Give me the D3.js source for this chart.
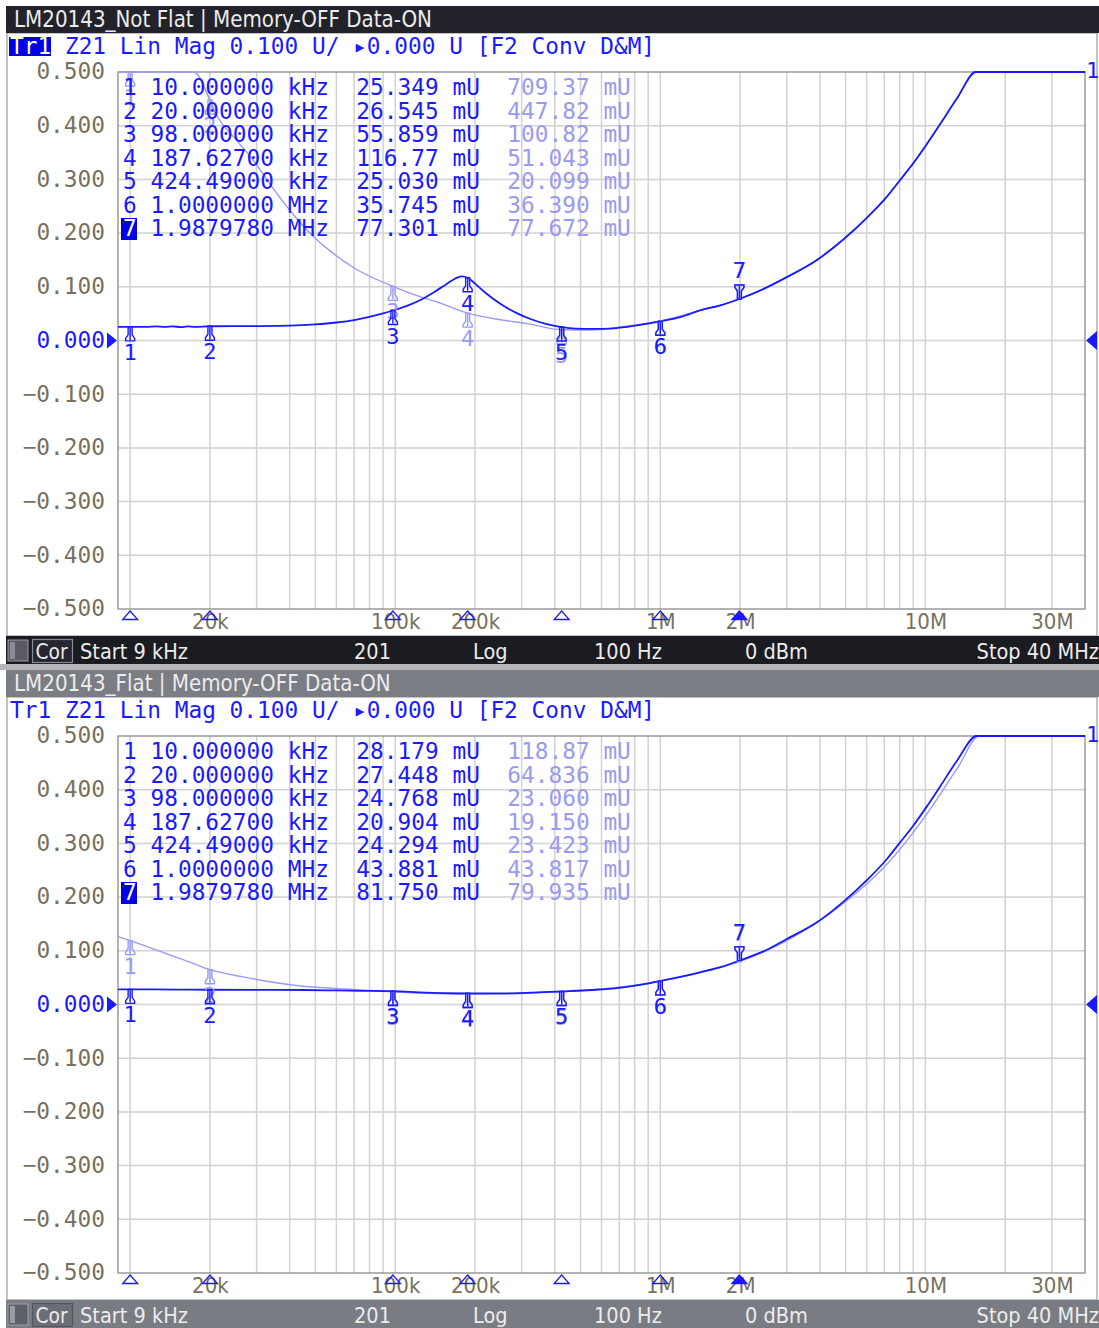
<!DOCTYPE html>
<html>
<head>
<meta charset="utf-8">
<script src="https://cdn.jsdelivr.net/npm/d3@7"></script>
<style>
  body { margin: 0; background: #fff; }
  svg { display: block; }
  text { white-space: pre; }
</style>
</head>
<body>
<script>
// ---- sweep / axis setup ----
const startHz = 9e3, stopHz = 40e6;
const yTickValues = [0.5, 0.4, 0.3, 0.2, 0.1, 0, -0.1, -0.2, -0.3, -0.4, -0.5];
const xTickValues = [20e3, 100e3, 200e3, 1e6, 2e6, 10e6, 30e6];
const xTickLabels = ["20k", "100k", "200k", "1M", "2M", "10M", "30M"];
const statusLabels = ["Start 9 kHz", "201", "Log", "100 Hz", "0 dBm", "Stop 40 MHz"];

// ---- markers (stimulus) ----
const markerHz = [10e3, 20e3, 98e3, 187.627e3, 424.49e3, 1e6, 1.987978e6];
const markerHzText = ["10.000000 kHz", "20.000000 kHz", "98.000000 kHz", "187.62700 kHz",
                      "424.49000 kHz", "1.0000000 MHz", "1.9879780 MHz"];
const activeMarker = 7;

// ---- LM20143_Not Flat : marker readouts (mU) ----
const notFlatMarkerData = [25.349, 26.545, 55.859, 116.77, 25.030, 35.745, 77.301];
const notFlatMarkerMem  = [709.37, 447.82, 100.82, 51.043, 20.099, 36.390, 77.672];

// trace (kHz, U)
const notFlatDataKHz = [9, 10, 11.5, 12.5, 13.5, 14.5, 15.5, 16.5, 17.5, 20, 25, 30, 40, 50, 60, 70, 80, 90,
  98, 110, 125, 140, 155, 168, 178, 187.627, 200, 220, 250, 290, 320, 370, 424.49, 480, 550, 650, 750, 850,
  1000, 1200, 1410, 1700, 1987.978, 2500, 3000, 3900, 4900, 6000, 7160, 8000, 9000, 10100, 11400, 13200,
  15500, 20000, 30000, 40000];
const notFlatDataU = [0.0253, 0.025349, 0.0252, 0.0262, 0.0255, 0.0263, 0.0249, 0.0262, 0.0255, 0.026545,
  0.0266, 0.0268, 0.0276, 0.0300, 0.0335, 0.0380, 0.0440, 0.0505,
  0.055859, 0.0640, 0.0760, 0.0900, 0.1040, 0.1150, 0.1195, 0.11677, 0.1060, 0.0880, 0.0680, 0.0500, 0.0410,
  0.0310, 0.025030, 0.0222, 0.0216, 0.0222, 0.0255, 0.0295,
  0.035745, 0.0440, 0.0560, 0.0660, 0.077301, 0.0980, 0.1180, 0.1500, 0.1880, 0.2280, 0.2680, 0.2980,
  0.3300, 0.3650, 0.4040, 0.4520, 0.5000, 0.6200, 0.8500, 1.0500];

// memory trace (kHz, U)
const notFlatMemKHz = [9, 10, 12, 14.5, 17.4, 20, 21.3, 25, 29, 35, 42, 50, 57.4, 70, 98, 120, 146, 187.627,
  240, 319, 424.49, 550, 700, 1000, 1410, 1700, 1987.978, 2500, 3000, 3900, 4900, 6000, 7160, 8000, 9000,
  10100, 11400, 13200, 15500, 20000, 30000, 40000];
const notFlatMemU = [0.78, 0.70937, 0.615, 0.545, 0.50, 0.44782, 0.418, 0.375, 0.337, 0.28, 0.23, 0.19,
  0.165, 0.135, 0.10082, 0.084, 0.0706, 0.051043, 0.040, 0.031, 0.020099, 0.0195, 0.0250, 0.03639, 0.0560,
  0.0663, 0.077672, 0.0980, 0.1180, 0.1500, 0.1880, 0.2280, 0.2680, 0.2980, 0.3300, 0.3650, 0.4040, 0.4520,
  0.5000, 0.6200, 0.8500, 1.0500];

// ---- LM20143_Flat : marker readouts (mU) ----
const flatMarkerData = [28.179, 27.448, 24.768, 20.904, 24.294, 43.881, 81.750];
const flatMarkerMem  = [118.87, 64.836, 23.060, 19.150, 23.423, 43.817, 79.935];

const flatDataKHz = [9, 10, 15, 20, 30, 45, 60, 75, 98, 130, 187.627, 250, 330, 424.49, 550, 700, 850, 1000,
  1200, 1410, 1700, 1987.978, 2500, 3000, 3900, 4900, 6000, 7160, 8000, 9000, 10100, 11400, 13200, 15600,
  20000, 30000, 40000];
const flatDataU = [0.0283, 0.028179, 0.0278, 0.027448, 0.0272, 0.0270, 0.0262, 0.0255, 0.024768, 0.0222,
  0.020904, 0.0207, 0.0220, 0.024294, 0.0270, 0.0310, 0.0370, 0.043881, 0.0520, 0.0600, 0.0700, 0.08175,
  0.1010, 0.1220, 0.1530, 0.1910, 0.2310, 0.2710, 0.3010, 0.3330, 0.3680, 0.4070, 0.4550, 0.5000,
  0.62, 0.85, 1.05];

const flatMemKHz = [9, 10, 12, 14, 17, 20, 27, 35, 45, 62, 80, 98, 140, 187.627, 300, 424.49, 600, 800, 1000,
  1410, 1987.978, 3000, 4900, 7160, 10100, 13200, 16000, 20000, 40000];
const flatMemU = [0.1265, 0.11887, 0.105, 0.093, 0.078, 0.064836, 0.051, 0.041, 0.034, 0.0295, 0.026,
  0.02306, 0.0205, 0.01915, 0.0205, 0.023423, 0.029, 0.0360, 0.043817, 0.0590, 0.079935, 0.1190, 0.1880,
  0.2610, 0.3540, 0.4400, 0.5000, 0.60, 1.0];

// ---- styling ----
const W = 1099, H = 1328;
const MONO = "'DejaVu Sans Mono', 'Liberation Mono', monospace";
const SANS = "'DejaVu Sans', 'Noto Sans', sans-serif";
const BLUE = "#1a1aff";
const LIGHT = "#9a9af2";
const AXIS_TXT = "#786f5e";
const GRID = "#d2d2d2";

const svg = d3.select("body").append("svg")
  .attr("width", W).attr("height", H)
  .attr("viewBox", `0 0 ${W} ${H}`);

const fmt = d3.format(".5r");
const zip = (fs, vs) => fs.map((f, i) => ({ f: f * 1e3, v: vs[i] }));

// squeeze a sans label horizontally to the instrument's narrow face
function narrow(sel, k) {
  sel.each(function () {
    const w = this.getComputedTextLength();
    d3.select(this).attr("textLength", w * k).attr("lengthAdjust", "spacingAndGlyphs");
  });
}

const panels = [
  { title: "LM20143_Not Flat | Memory-OFF Data-ON", dy: 0, dark: true,
    data: zip(notFlatDataKHz, notFlatDataU), mem: zip(notFlatMemKHz, notFlatMemU),
    mData: notFlatMarkerData, mMem: notFlatMarkerMem },
  { title: "LM20143_Flat | Memory-OFF Data-ON", dy: 664, dark: false,
    data: zip(flatDataKHz, flatDataU), mem: zip(flatMemKHz, flatMemU),
    mData: flatMarkerData, mMem: flatMarkerMem }
];

// gap strip between the two channel windows
svg.append("rect").attr("x", 0).attr("y", 664).attr("width", W).attr("height", 6).attr("fill", "#b4b6bc");

panels.forEach((p, pi) => {
  const g = svg.append("g").attr("transform", `translate(0,${p.dy})`);
  const barFill = p.dark ? "#22222a" : "#7b7d85";
  const statusFill = p.dark ? "#1b1b22" : "#7a7c84";

  // window frame
  g.append("rect").attr("x", 7).attr("y", 33).attr("width", W - 9).attr("height", 603)
    .attr("fill", "#fff").attr("stroke", "#9a9a9a").attr("stroke-width", 1.2);

  // window title bar
  g.append("rect").attr("x", 6).attr("y", 6).attr("width", W - 6).attr("height", 27).attr("fill", barFill);
  g.append("text").attr("x", 14).attr("y", 27)
    .attr("font-family", SANS).attr("font-size", 23).attr("fill", "#ececec")
    .text(p.title).call(narrow, 0.865);

  // trace header
  if (p.dark) {
    g.append("rect").attr("x", 9).attr("y", 37).attr("width", 42).attr("height", 19).attr("fill", "#0000e6");
  }
  const hdr = g.append("text").attr("x", 10).attr("y", 53.5)
    .attr("font-family", MONO).attr("font-size", 22.8).attr("fill", BLUE);
  hdr.append("tspan").attr("fill", p.dark ? "#fff" : BLUE).text("Tr1");
  hdr.append("tspan").text(" Z21 Lin Mag 0.100 U/ \u25B80.000 U [F2 Conv D&M]");

  // scales
  const x = d3.scaleLog().domain([startHz, stopHz]).range([118, 1085]);
  const y = d3.scaleLinear().domain([-0.5, 0.5]).range([609, 72]).clamp(true);

  // grid
  const grid = g.append("g").attr("stroke", GRID).attr("stroke-width", 1.5);
  grid.selectAll("line.v").data(x.ticks().filter(t => t > startHz && t < stopHz)).join("line")
    .attr("x1", d => x(d)).attr("x2", d => x(d)).attr("y1", 72).attr("y2", 609);
  grid.selectAll("line.h").data(yTickValues.slice(1, -1)).join("line")
    .attr("x1", 118).attr("x2", 1085).attr("y1", d => y(d)).attr("y2", d => y(d));
  g.append("rect").attr("x", 118).attr("y", 72).attr("width", 967).attr("height", 537)
    .attr("fill", "none").attr("stroke", "#8a8a8a").attr("stroke-width", 1.3);

  // y axis labels
  const ya = g.append("g").attr("transform", "translate(105,0)")
    .call(d3.axisLeft(y).tickValues(yTickValues).tickSize(0).tickPadding(0)
      .tickFormat(d => (d < 0 ? "\u2212" : "") + Math.abs(d).toFixed(3)));
  ya.select(".domain").remove();
  ya.selectAll("text").attr("font-family", MONO).attr("font-size", 22.8)
    .attr("fill", d => d === 0 ? BLUE : AXIS_TXT).attr("dy", "0.3em");
  // reference level pointers
  g.append("path").attr("d", `M107,${y(0) - 8}L117,${y(0)}L107,${y(0) + 8}Z`).attr("fill", BLUE);
  g.append("path").attr("d", `M1097,${y(0) - 9.5}L1086,${y(0)}L1097,${y(0) + 9.5}Z`).attr("fill", BLUE);
  g.append("text").attr("x", 1086).attr("y", 78).attr("font-family", MONO).attr("font-size", 22)
    .attr("fill", BLUE).text("1");

  // x axis labels
  const xa = g.append("g").attr("transform", "translate(0,609)")
    .call(d3.axisBottom(x).tickValues(xTickValues).tickSize(0).tickPadding(4)
      .tickFormat((d, i) => xTickLabels[i]));
  xa.select(".domain").remove();
  xa.selectAll("text").attr("font-family", SANS).attr("font-size", 22).attr("fill", AXIS_TXT)
    .call(narrow, 0.9);

  // traces
  const clipId = `plotclip${pi}`;
  g.append("clipPath").attr("id", clipId).append("rect")
    .attr("x", 118).attr("y", 70).attr("width", 967).attr("height", 541);
  const line = d3.line().x(d => x(d.f)).y(d => y(d.v)).curve(d3.curveMonotoneX);
  const traces = g.append("g").attr("clip-path", `url(#${clipId})`).attr("fill", "none");
  traces.append("path").attr("d", line(p.mem)).attr("stroke", LIGHT).attr("stroke-width", 1.4);
  traces.append("path").attr("d", line(p.data)).attr("stroke", BLUE).attr("stroke-width", 1.8);

  // marker glyphs
  const upPin = "M-2,0L2,0L2,8L4.5,11.5L4.5,14L-4.5,14L-4.5,11.5L-2,8Z M0,1V13";
  const downPin = "M-2,0L2,0L2,-8L4.5,-11.5L4.5,-14L-4.5,-14L-4.5,-11.5L-2,-8Z M0,-1V-13";
  function drawMarkers(vals, color) {
    vals.forEach((mu, i) => {
      const mx = x(markerHz[i]), my = y(mu / 1000);
      const active = (i + 1) === activeMarker;
      const mg = g.append("g").attr("transform", `translate(${mx},${my})`);
      mg.append("path").attr("d", active ? downPin : upPin)
        .attr("fill", "none").attr("stroke", color).attr("stroke-width", 1.4);
      mg.append("text").attr("x", 0).attr("y", active ? -21 : 33)
        .attr("text-anchor", "middle").attr("font-family", MONO).attr("font-size", 22)
        .attr("fill", color).text(i + 1);
    });
  }
  drawMarkers(p.mMem, LIGHT);
  drawMarkers(p.mData, BLUE);

  // stimulus markers on the frequency axis
  markerHz.forEach((f, i) => {
    const mx = x(f);
    g.append("path").attr("d", `M${mx},611L${mx - 7.5},619.5L${mx + 7.5},619.5Z`)
      .attr("fill", (i + 1) === activeMarker ? BLUE : "none")
      .attr("stroke", BLUE).attr("stroke-width", 1.3);
  });

  // marker table
  const tbl = g.append("g").attr("font-family", MONO).attr("font-size", 22.8);
  markerHz.forEach((f, i) => {
    const by = 95 + i * 23.5;
    if ((i + 1) === activeMarker) {
      tbl.append("rect").attr("x", 121).attr("y", by - 18).attr("width", 16).attr("height", 22).attr("fill", "#0000e6");
    }
    const t = tbl.append("text").attr("x", 123).attr("y", by);
    t.append("tspan").attr("fill", (i + 1) === activeMarker ? "#fff" : BLUE).text(String(i + 1));
    t.append("tspan").attr("fill", BLUE).text(` ${markerHzText[i]}  ${fmt(p.mData[i])} mU  `);
    t.append("tspan").attr("fill", LIGHT).text(`${fmt(p.mMem[i])} mU`);
  });

  // status bar
  g.append("rect").attr("x", 6).attr("y", 636).attr("width", W - 6).attr("height", 28).attr("fill", statusFill);
  g.append("rect").attr("x", 8).attr("y", 640).attr("width", 20).attr("height", 21)
    .attr("fill", p.dark ? "#5a5a62" : "#5e6068").attr("stroke", "#9a9aa2").attr("stroke-width", 1);
  g.append("rect").attr("x", 10).attr("y", 642).attr("width", 5).attr("height", 17).attr("fill", p.dark ? "#8a8a92" : "#9a9ca4");
  g.append("rect").attr("x", 32.5).attr("y", 639.5).attr("width", 40).attr("height", 23)
    .attr("fill", p.dark ? "#262630" : "#6c6e76").attr("stroke", p.dark ? "#8a8a94" : "#55575f").attr("stroke-width", 1.2);
  g.append("text").attr("x", 35.5).attr("y", 658.5).attr("font-family", SANS).attr("font-size", 22)
    .attr("fill", "#ececec").text("Cor").call(narrow, 0.85);
  const sx = [80, 354, 473, 594, 745, 1099];
  statusLabels.forEach((s, i) => {
    g.append("text").attr("x", sx[i]).attr("y", 658.5)
      .attr("text-anchor", i === statusLabels.length - 1 ? "end" : "start")
      .attr("font-family", SANS).attr("font-size", 22).attr("fill", "#ececec")
      .text(s).call(narrow, 0.88);
  });
});
</script>
</body>
</html>
